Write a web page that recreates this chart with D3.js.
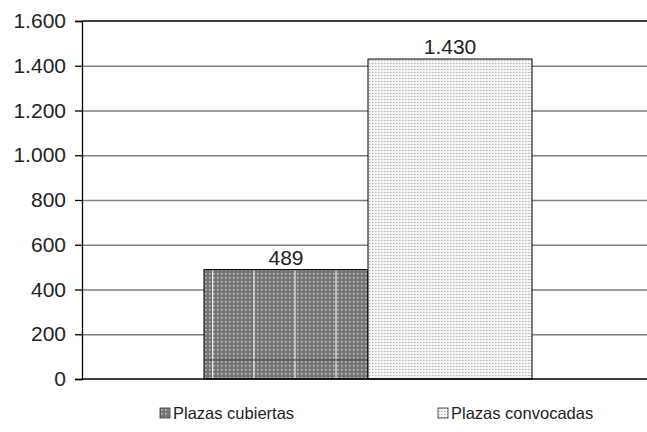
<!DOCTYPE html>
<html>
<head>
	<meta charset="utf-8">
	<title>Plazas</title>
	<style type="text/css">
		body { margin: 0; background: white; font-family: 'Liberation Sans', Arial, sans-serif; }
	</style>
	<script src="https://d3js.org/d3.v7.min.js"></script>
</head>
<body>
	<svg width="647" height="432"></svg>
	<script type="text/javascript">
		// data
		var seriesNames = ['Plazas cubiertas', 'Plazas convocadas'];
		var seriesValues = [489, 1430];
		var valueLabels = ['489', '1.430'];
		var yTicks = [0, 200, 400, 600, 800, 1000, 1200, 1400, 1600];

		var svg = d3.select('svg');
		var fmt = d3.formatLocale({decimal: ',', thousands: '.', grouping: [3], currency: ['', '']}).format(',');

		// plot area (window.top is reserved, so use other names)
		var plotL = 82, plotR = 654, plotT = 21, plotB = 379;

		var y = d3.scaleLinear().domain([0, 1600]).range([plotB, plotT]);
		var xCat = d3.scaleBand().domain(['']).range([plotL, plotR]).paddingInner(0).paddingOuter(0.372);
		var x = d3.scaleBand().domain(seriesNames).range([xCat(''), xCat('') + xCat.bandwidth()]);

		// patterns
		var defs = svg.append('defs');
		var p1 = defs.append('pattern').attr('id', 'dark')
			.attr('patternUnits', 'userSpaceOnUse').attr('width', 4).attr('height', 4);
		p1.append('rect').attr('width', 4).attr('height', 4).attr('fill', '#767676');
		p1.append('rect').attr('x', 1).attr('y', 1).attr('width', 1.5).attr('height', 1.5).attr('fill', '#c8c8c8');

		var p2 = defs.append('pattern').attr('id', 'light')
			.attr('patternUnits', 'userSpaceOnUse').attr('width', 3).attr('height', 3);
		p2.append('rect').attr('width', 3).attr('height', 3).attr('fill', '#f4f4f4');
		p2.append('rect').attr('x', 0).attr('y', 0).attr('width', 1.5).attr('height', 1).attr('fill', '#b4b4b4');

		// gridlines
		svg.append('g').selectAll('line')
			.data(yTicks.filter(d => d > 0 && d < 1600))
			.enter().append('line')
			.attr('x1', plotL).attr('x2', 647)
			.attr('y1', d => y(d) + 0.5).attr('y2', d => y(d) + 0.5)
			.attr('stroke', '#7f7f7f').attr('stroke-width', 1.3);

		svg.append('line')
			.attr('x1', plotL).attr('x2', 647)
			.attr('y1', y(1600)).attr('y2', y(1600))
			.attr('stroke', 'black').attr('stroke-width', 1.5);

		// bars
		var fills = ['url(#dark)', 'url(#light)'];
		svg.append('g').selectAll('rect')
			.data(seriesValues)
			.enter().append('rect')
			.attr('x', (d, i) => x(seriesNames[i]))
			.attr('y', d => y(d))
			.attr('width', x.bandwidth())
			.attr('height', d => y(0) - y(d))
			.attr('fill', (d, i) => fills[i])
			.attr('stroke', 'black').attr('stroke-width', 1);

		// white streaks in the dark bar
		var b0 = x(seriesNames[0]);
		svg.append('g').selectAll('line')
			.data([0.053, 0.305, 0.555, 0.805])
			.enter().append('line')
			.attr('x1', d => b0 + d * x.bandwidth()).attr('x2', d => b0 + d * x.bandwidth())
			.attr('y1', y(seriesValues[0]) + 1).attr('y2', y(0) - 1)
			.attr('stroke', 'white').attr('stroke-width', 1);
		svg.append('line')
			.attr('x1', b0 + 1).attr('x2', b0 + x.bandwidth() - 1)
			.attr('y1', y(85)).attr('y2', y(85))
			.attr('stroke', '#444').attr('stroke-width', 1);

		// value labels
		svg.append('g').selectAll('text')
			.data(seriesValues)
			.enter().append('text')
			.attr('x', (d, i) => x(seriesNames[i]) + x.bandwidth() / 2)
			.attr('y', d => y(d) - 5)
			.attr('text-anchor', 'middle')
			.attr('font-size', '21px')
			.attr('fill', '#222')
			.text((d, i) => valueLabels[i]);

		// y axis
		var yAxis = d3.axisLeft(y).tickValues(yTicks).tickSize(7).tickPadding(9)
			.tickFormat(d => fmt(d));
		var ax = svg.append('g').attr('transform', 'translate(' + plotL + ',0)').call(yAxis);
		ax.select('.domain').attr('stroke', 'black').attr('stroke-width', 1.3);
		ax.selectAll('.tick line').attr('stroke', 'black').attr('stroke-width', 1.3);
		ax.selectAll('.tick text').attr('font-size', '21px').attr('fill', '#222')
			.attr('font-family', 'Liberation Sans, Arial, sans-serif');

		// baseline
		svg.append('line')
			.attr('x1', plotL).attr('x2', 647)
			.attr('y1', y(0)).attr('y2', y(0))
			.attr('stroke', 'black').attr('stroke-width', 1.5);

		// legend
		var legendX = [160, 438];
		var lg = svg.append('g').selectAll('g')
			.data(seriesNames)
			.enter().append('g')
			.attr('transform', (d, i) => 'translate(' + legendX[i] + ',408)');
		lg.append('rect').attr('width', 10).attr('height', 10)
			.attr('fill', (d, i) => fills[i]).attr('stroke', '#333').attr('stroke-width', 0.8);
		lg.append('text').attr('x', 13).attr('y', 11)
			.attr('font-size', '16.5px')
			.attr('fill', '#222')
			.text(d => d);
	</script>
</body>
</html>
